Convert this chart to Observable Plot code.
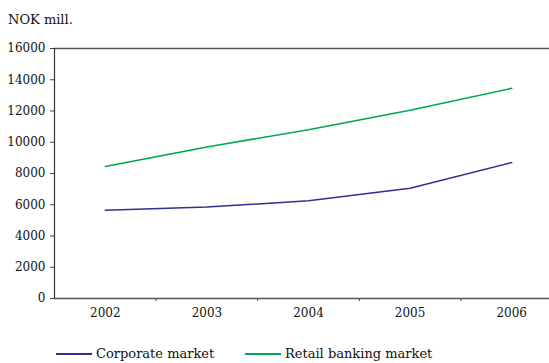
<!DOCTYPE html>
<html>
<head>
<meta charset="utf-8">
<script src="https://cdn.jsdelivr.net/npm/d3@7"></script>
<script src="https://cdn.jsdelivr.net/npm/@observablehq/plot@0.6"></script>
<style>
  html, body { margin: 0; padding: 0; background: #fff; overflow: hidden; width: 549px; height: 363px; }
  body { position: relative; font-family: "DejaVu Serif", serif; color: #111; }
  #title { position: absolute; left: 8px; top: 12px; font-size: 13px; }
  #chart { position: absolute; left: 0; top: 0; width: 562px; }
  #chart svg { max-width: none !important; }
  #legend { position: absolute; left: 0; top: 346px; font-size: 13px; width: 549px; height: 18px; }
  .item { position: absolute; top: 0; display: flex; align-items: center; white-space: nowrap; }
  .swatch { display: inline-block; width: 36px; height: 2px; margin-right: 4px; }
</style>
</head>
<body>
<div id="title">NOK mill.</div>
<div id="chart"></div>
<div id="legend"></div>
<script>
const years = [2002, 2003, 2004, 2005, 2006];
const corporate = [5650, 5850, 6250, 7050, 8700];
const retail = [8450, 9700, 10800, 12050, 13450];
const seriesNames = ["Corporate market", "Retail banking market"];
const seriesColors = ["#2e3192", "#00a651"];
const yTicks = [0, 2000, 4000, 6000, 8000, 10000, 12000, 14000, 16000];

const data = [];
years.forEach((y, i) => {
  data.push({year: y, value: corporate[i], series: seriesNames[0]});
  data.push({year: y, value: retail[i], series: seriesNames[1]});
});
const between = years.slice(0, -1).map(y => y + 0.5);

const plot = Plot.plot({
  width: 562,
  height: 330,
  marginTop: 48,
  marginBottom: 32,
  marginLeft: 54,
  marginRight: 0,
  style: {fontFamily: "DejaVu Serif, serif", fontSize: "12px", color: "#111", background: "transparent", maxWidth: "none"},
  x: {domain: [years[0] - 0.5, years[years.length - 1] + 0.5]},
  y: {domain: [0, 16000]},
  color: {domain: seriesNames, range: seriesColors},
  marks: [
    Plot.axisY({ticks: yTicks, tickFormat: d3.format("d"), tickSize: 4, tickPadding: 5, stroke: "#444", label: null, fill: "#111"}),
    Plot.axisX({ticks: years, tickFormat: d3.format("d"), tickSize: 0, tickPadding: 10, label: null, fill: "#111"}),
    Plot.axisX({ticks: between, tickFormat: () => "", tickSize: 3, stroke: "#444", label: null}),
    Plot.ruleY([16000], {stroke: "#555", strokeWidth: 1.5}),
    Plot.ruleX([years[0] - 0.5], {stroke: "#333", strokeWidth: 1.2}),
    Plot.ruleY([0], {stroke: "#555", strokeWidth: 1.5}),
    Plot.line(data, {x: "year", y: "value", z: "series", stroke: "series", strokeWidth: 1.5})
  ]
});
document.getElementById("chart").appendChild(plot);

const legend = document.getElementById("legend");
const legendX = [56, 245];
seriesNames.forEach((name, i) => {
  const item = document.createElement("div");
  item.className = "item";
  item.style.left = legendX[i] + "px";
  const sw = document.createElement("span");
  sw.className = "swatch";
  sw.style.background = seriesColors[i];
  const label = document.createElement("span");
  label.textContent = name;
  item.appendChild(sw);
  item.appendChild(label);
  legend.appendChild(item);
});
</script>
</body>
</html>
